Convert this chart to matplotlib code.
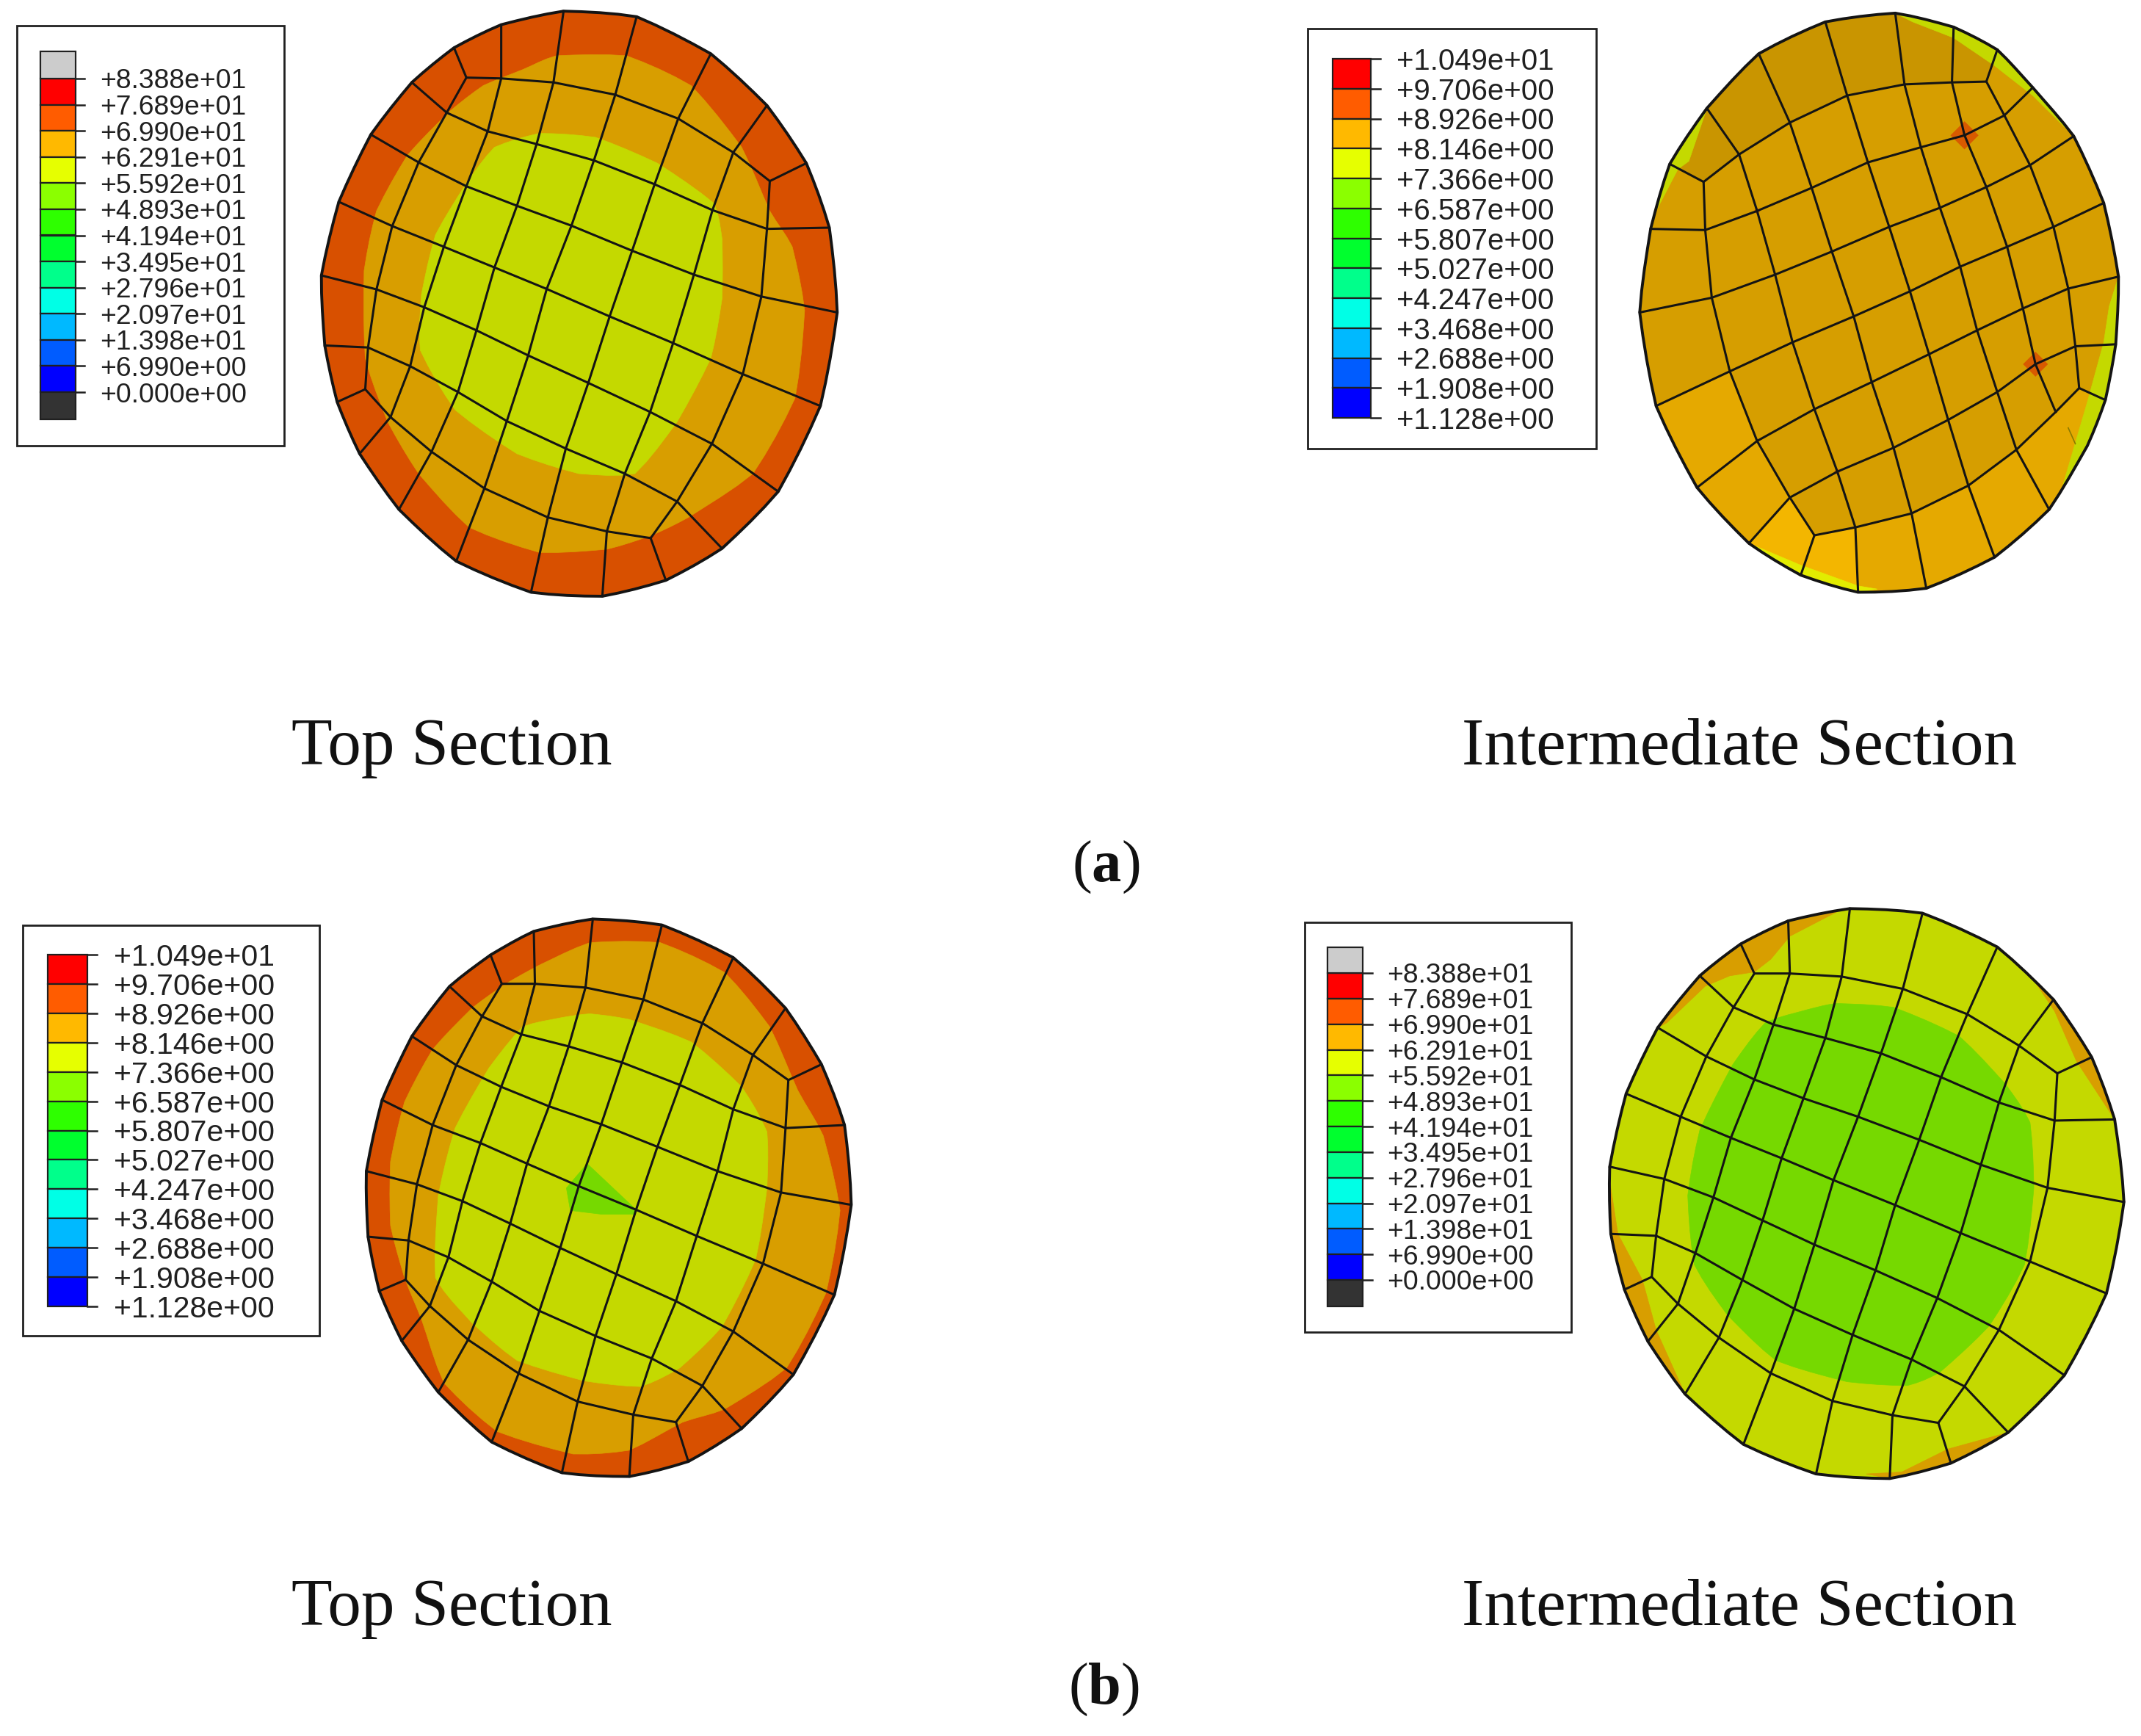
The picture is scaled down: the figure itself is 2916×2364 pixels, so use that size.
import matplotlib
matplotlib.use("Agg")
import matplotlib.pyplot as plt
from matplotlib.patches import Polygon, Rectangle

plt.rcParams['mathtext.fontset'] = 'custom'
plt.rcParams['mathtext.rm'] = 'Liberation Serif'
plt.rcParams['mathtext.bf'] = 'Liberation Serif:bold'

# ---------- legend data ----------
labels_stress = ["+8.388e+01", "+7.689e+01", "+6.990e+01", "+6.291e+01", "+5.592e+01", "+4.893e+01", "+4.194e+01",
                 "+3.495e+01", "+2.796e+01", "+2.097e+01", "+1.398e+01", "+6.990e+00", "+0.000e+00"]
labels_strain = ["+1.049e+01", "+9.706e+00", "+8.926e+00", "+8.146e+00", "+7.366e+00", "+6.587e+00", "+5.807e+00",
                 "+5.027e+00", "+4.247e+00", "+3.468e+00", "+2.688e+00", "+1.908e+00", "+1.128e+00"]
band_colors = ["#FF0000", "#FF5C00", "#FFB900", "#E6FF00", "#8BFF00", "#2EFF00", "#00FF2E",
               "#00FF8B", "#00FFE6", "#00B9FF", "#005CFF", "#0000FF"]
over_color = "#CCCCCC"
under_color = "#333333"

DARK = "#D85000"
ORANGE = "#D89E00"
LIME = "#C4D900"
GREEN = "#76D900"

# ---------- disc 1: top section (a) ----------
d1_outline = [(1003,28),(1133,42),(1265,135),(1365,265),(1435,410),(1476,572),(1490,785),(1460,1020),(1385,1235),(1285,1378),(1185,1458),(1072,1498),(945,1488),(812,1410),(710,1280),(640,1140),(600,1010),(578,868),(572,692),(603,507),(660,338),(733,207),(808,120),(892,62)]
d1_orange = [(990,140),(1115,140),(1230,215),(1320,370),(1370,530),(1410,620),(1432,780),(1415,1000),(1340,1190),(1225,1300),(1160,1345),(1080,1380),(960,1388),(835,1325),(745,1190),(690,1060),(650,900),(648,680),(670,530),(725,390),(800,280),(860,215),(930,175)]
d1_lime = [(960,335),(1060,345),(1170,410),(1270,510),(1285,600),(1285,750),(1265,900),(1205,1060),(1130,1190),(1030,1190),(920,1140),(810,1030),(748,880),(750,740),(775,590),(830,460),(880,370)]
d1_lines = [
 [(830,195),(892,197),(985,207),(1095,238),(1207,298),(1305,383),(1370,455)],
 [(795,283),(868,330),(955,362),(1057,403),(1165,463),(1268,528),(1365,575),(1476,572)],
 [(660,338),(745,408),(830,468),(920,517),(1017,567),(1125,630),(1235,690),(1355,745),(1490,785)],
 [(603,507),(698,568),(790,620),(880,672),(973,726),(1085,795),(1198,862),(1322,940),(1460,1020)],
 [(572,692),(670,727),(755,772),(848,830),(940,893),(1047,962),(1157,1035),(1267,1115),(1385,1235)],
 [(578,868),(655,873),(730,920),(815,985),(902,1058),(1007,1127),(1112,1190),(1205,1260),(1285,1378)],
 [(650,978),(695,1048),(768,1135),(862,1227),(975,1300),(1080,1335),(1158,1352)],
 [(808,120),(830,195),(795,283),(745,408),(698,568),(670,727),(655,873),(650,978),(600,1010)],
 [(733,207),(795,283)],
 [(640,1140),(695,1048)],
 [(892,62),(892,197),(868,330),(830,468),(790,620),(755,772),(730,920),(695,1048)],
 [(1003,28),(985,207),(955,362),(920,517),(880,672),(848,830),(815,985),(768,1135),(710,1280)],
 [(1133,42),(1095,238),(1057,403),(1017,567),(973,726),(940,893),(902,1058),(862,1227),(812,1410)],
 [(1265,135),(1207,298),(1165,463),(1125,630),(1085,795),(1047,962),(1007,1127),(975,1300),(945,1488)],
 [(1365,265),(1305,383),(1268,528),(1235,690),(1198,862),(1157,1035),(1112,1190),(1080,1335),(1072,1498)],
 [(1435,410),(1370,455),(1365,575),(1355,745),(1322,940),(1267,1115),(1205,1260),(1158,1352),(1185,1458)],
]

# ---------- disc 2: intermediate section (a) ----------
d2_outline = [(1118,33),(1225,68),(1305,125),(1370,220),(1445,342),(1500,510),(1527,695),(1522,865),(1503,1005),(1470,1120),(1400,1280),(1300,1400),(1175,1478),(1050,1488),(945,1445),(850,1365),(755,1225),(680,1020),(650,785),(670,575),(705,412),(773,272),(868,135),(990,55)]
d2_top_ring = [(705,412),(773,272),(868,135),(990,55),(1118,33),(1225,68),(1305,125),(1285,205),(1222,207),(1135,212),(1030,240),(925,308),(832,388),(767,457)]
d2_low_ring = [(680,1020),(815,933),(865,1108),(925,1250),(970,1345),(1045,1325),(1148,1290),(1252,1220),(1340,1130),(1412,1035),(1455,975),(1503,1005),(1470,1120),(1400,1280),(1300,1400),(1175,1478),(1050,1488),(945,1445),(850,1365),(755,1225)]
d2_bright = [(850,1365),(925,1250),(970,1345),(1045,1325),(1050,1488),(945,1445)]
d2_slivers = [
 [(1118,33),(1225,68),(1305,125),(1370,220),(1445,342),(1370,240),(1300,165),(1225,95),(1150,55)],
 [(705,412),(773,272),(740,405),(720,425),(680,530),(668,600),(672,560)],
 [(1527,695),(1522,865),(1503,1005),(1470,1120),(1425,1220),(1470,1010),(1500,860),(1510,770)],
]
d2_yellow = [(850,1365),(945,1420),(1050,1472),(1085,1480),(1050,1488),(945,1445)]
d2_hot_nodes = [(1245,340),(1375,915),(865,530),(1012,1185)]
d2_hot_sizes = [380,300,20,20]
d2_scratch = [(1435,1075),(1448,1115)]
d2_lines = [
 [(705,412),(767,457),(832,388),(925,308),(1030,240),(1135,212),(1222,207),(1285,205),(1305,125)],
 [(670,575),(770,578),(865,530),(965,472),(1068,408),(1165,370),(1245,340),(1318,290),(1370,220)],
 [(650,785),(782,748),(898,690),(1002,632),(1107,570),(1200,522),(1285,470),(1365,415),(1445,342)],
 [(680,1020),(815,933),(930,860),(1042,795),(1145,732),(1237,670),(1323,620),(1408,570),(1500,510)],
 [(755,1225),(865,1108),(970,1028),(1075,960),(1180,890),(1268,830),(1352,775),(1435,725),(1527,695)],
 [(925,1250),(1012,1185),(1115,1125),(1215,1055),(1305,985),(1375,915),(1448,870),(1522,865)],
 [(970,1345),(1045,1325),(1148,1290),(1252,1220),(1340,1130),(1412,1035),(1455,975)],
 [(773,272),(832,388),(865,530),(898,690),(930,860),(970,1028),(1012,1185),(1045,1325),(1050,1488)],
 [(868,135),(925,308),(965,472),(1002,632),(1042,795),(1075,960),(1115,1125),(1148,1290),(1175,1478)],
 [(990,55),(1030,240),(1068,408),(1107,570),(1145,732),(1180,890),(1215,1055),(1252,1220),(1300,1400)],
 [(1118,33),(1135,212),(1165,370),(1200,522),(1237,670),(1268,830),(1305,985),(1340,1130),(1400,1280)],
 [(1225,68),(1222,207),(1245,340),(1285,470),(1323,620),(1352,775),(1375,915),(1412,1035)],
 [(1285,205),(1318,290),(1365,415),(1408,570),(1435,725),(1448,870),(1455,975),(1503,1005)],
 [(767,457),(770,578),(782,748),(815,933),(865,1108),(925,1250),(970,1345),(945,1445)],
 [(850,1365),(925,1250)],
]

# ---------- disc 3: top section (b) ----------
d3_outline = [(1055,42),(1178,58),(1305,145),(1398,280),(1462,430),(1503,592),(1515,805),(1485,1045),(1412,1258),(1320,1402),(1225,1490),(1120,1530),(1000,1520),(875,1438),(780,1305),(715,1168),(675,1035),(655,890),(652,715),(680,525),(733,355),(800,222),(873,138),(950,75)]
d3_orange = [(1050,105),(1175,105),(1290,185),(1370,330),(1420,500),(1465,620),(1495,820),(1470,1040),(1400,1240),(1290,1350),(1215,1385),(1120,1460),(1020,1470),(885,1410),(790,1280),(750,1110),(720,1000),(695,860),(695,690),(720,530),(770,390),(840,280),(900,215),(960,165)]
d3_lime = [(1050,295),(1120,310),(1230,370),(1320,490),(1365,610),(1365,760),(1345,950),(1285,1130),(1210,1240),(1140,1290),(1040,1275),(920,1220),(840,1120),(775,1000),(780,780),(810,600),(870,440),(930,330),(1000,305)]
d3_green = [(1045,695),(1130,815),(1130,830),(1070,830),(1015,820),(1008,760)]
d3_lines = [
 [(893,215),(952,215),(1042,225),(1145,257),(1250,320),(1340,405),(1403,472)],
 [(858,302),(928,350),(1012,382),(1107,425),(1210,485),(1305,550),(1398,600),(1503,592)],
 [(733,355),(812,432),(892,490),(977,542),(1070,590),(1170,650),(1277,715),(1390,772),(1515,805)],
 [(680,525),(770,592),(855,640),(938,695),(1030,755),(1132,818),(1240,888),(1358,962),(1485,1045)],
 [(652,715),(742,750),(823,795),(908,855),(997,920),(1097,990),(1203,1062),(1305,1143),(1412,1258)],
 [(655,890),(727,900),(798,945),(875,1010),(960,1088),(1060,1155),(1160,1215),(1250,1288),(1320,1402)],
 [(722,1005),(765,1075),(833,1165),(923,1255),(1028,1330),(1127,1365),(1203,1385)],
 [(873,138),(893,215),(858,302),(812,432),(770,592),(742,750),(727,900),(722,1005),(675,1035)],
 [(800,222),(858,302)],
 [(715,1168),(765,1075)],
 [(950,75),(952,215),(928,350),(892,490),(855,640),(823,795),(798,945),(765,1075)],
 [(1055,42),(1042,225),(1012,382),(977,542),(938,695),(908,855),(875,1010),(833,1165),(780,1305)],
 [(1178,58),(1145,257),(1107,425),(1070,590),(1030,755),(997,920),(960,1088),(923,1255),(875,1438)],
 [(1305,145),(1250,320),(1210,485),(1170,650),(1132,818),(1097,990),(1060,1155),(1028,1330),(1000,1520)],
 [(1398,280),(1340,405),(1305,550),(1277,715),(1240,888),(1203,1062),(1160,1215),(1127,1365),(1120,1530)],
 [(1462,430),(1403,472),(1398,600),(1390,772),(1358,962),(1305,1143),(1250,1288),(1203,1385),(1225,1490)],
]

# ---------- disc 4: intermediate section (b) ----------
d4_outline = [(1035,33),(1168,45),(1305,133),(1408,270),(1478,420),(1520,582),(1537,797),(1505,1035),(1428,1248),(1325,1397),(1220,1477),(1108,1517),(973,1505),(840,1428),(733,1297),(665,1160),(622,1025),(597,880),(595,705),(625,515),(683,343),(760,208),(835,125),(922,65)]
d4_green = [(1010,280),(1115,290),(1235,365),(1320,490),(1365,590),(1372,760),(1355,960),(1290,1120),(1200,1240),(1140,1275),(1030,1265),(900,1210),(810,1090),(750,960),(738,780),(760,610),(820,440),(880,330),(960,295)]
d4_slivers = [
 [(683,343),(760,208),(835,125),(922,65),(1020,35),(925,105),(890,165),(860,198),(815,208),(770,235),(700,330)],
 [(1408,270),(1478,420),(1520,582),(1450,430),(1410,300),(1370,215)],
 [(595,705),(597,880),(622,1025),(665,1160),(733,1297),(680,1130),(655,1000),(610,880),(597,760)],
 [(1108,1517),(1220,1477),(1325,1397),(1215,1440),(1130,1500),(1065,1505)],
]
d4_lines = [
 [(860,202),(925,202),(1020,210),(1132,242),(1250,308),(1345,390),(1415,462)],
 [(822,290),(895,335),(990,370),(1092,410),(1202,472),(1308,538),(1410,585),(1520,582)],
 [(683,343),(772,418),(860,478),(950,527),(1050,575),(1162,635),(1275,700),(1397,760),(1537,797)],
 [(625,515),(725,575),(817,630),(910,683),(1005,740),(1118,805),(1238,878),(1365,952),(1505,1035)],
 [(595,705),(695,737),(785,785),(875,845),(970,908),(1082,975),(1195,1047),(1308,1130),(1428,1248)],
 [(597,880),(680,885),(752,930),(838,1000),(933,1075),(1040,1143),(1148,1207),(1245,1277),(1325,1397)],
 [(672,992),(720,1062),(795,1150),(890,1243),(1003,1315),(1113,1352),(1197,1372)],
 [(835,125),(860,202),(822,290),(772,418),(725,575),(695,737),(680,885),(672,992),(622,1025)],
 [(760,208),(822,290)],
 [(665,1160),(720,1062)],
 [(922,65),(925,202),(895,335),(860,478),(817,630),(785,785),(752,930),(720,1062)],
 [(1035,33),(1020,210),(990,370),(950,527),(910,683),(875,845),(838,1000),(795,1150),(733,1297)],
 [(1168,45),(1132,242),(1092,410),(1050,575),(1005,740),(970,908),(933,1075),(890,1243),(840,1428)],
 [(1305,133),(1250,308),(1202,472),(1162,635),(1118,805),(1082,975),(1040,1143),(1003,1315),(973,1505)],
 [(1408,270),(1345,390),(1308,538),(1275,700),(1238,878),(1195,1047),(1148,1207),(1113,1352),(1108,1517)],
 [(1478,420),(1415,462),(1410,585),(1397,760),(1365,952),(1308,1130),(1245,1277),(1197,1372),(1220,1477)],
]

W, H = 2916, 2364
fig = plt.figure(figsize=(W / 100, H / 100), dpi=100, facecolor="white")
ax = fig.add_axes([0, 0, 1, 1])
ax.set_xlim(0, W)
ax.set_ylim(H, 0)
ax.axis("off")

LINE = "#141414"


def view(x0, y0, sx, sy):
    return lambda pts: [(x0 + x / sx, y0 + y / sy) for x, y in pts]


def round_off(pts, sub=4, amount=0.4):
    """Closed Catmull-Rom blended with the polygon, so rims bow gently between read vertices."""
    out = []
    n = len(pts)
    for i in range(n):
        p0, p1, p2, p3 = pts[i - 1], pts[i], pts[(i + 1) % n], pts[(i + 2) % n]
        for k in range(sub):
            t = k / sub
            a, b, c = (-t**3 + 2*t**2 - t) / 2, (3*t**3 - 5*t**2 + 2) / 2, (-3*t**3 + 4*t**2 + t) / 2
            d = (t**3 - t**2) / 2
            sx_ = a*p0[0] + b*p1[0] + c*p2[0] + d*p3[0]
            sy_ = a*p0[1] + b*p1[1] + c*p2[1] + d*p3[1]
            lx, ly = p1[0] + t*(p2[0] - p1[0]), p1[1] + t*(p2[1] - p1[1])
            out.append((lx + amount*(sx_ - lx), ly + amount*(sy_ - ly)))
    return out


def fill(pts, color, z=1, clip=None):
    p = Polygon(pts, closed=True, facecolor=color, edgecolor=color, lw=0.5, zorder=z)
    ax.add_patch(p)
    if clip is not None:
        p.set_clip_path(clip)
    return p


def mesh(outline, lines):
    for ln in lines:
        xs, ys = zip(*ln)
        ax.plot(xs, ys, color=LINE, lw=2.2, solid_joinstyle="round", zorder=5)
    ax.add_patch(Polygon(outline, closed=True, fill=False, edgecolor=LINE, lw=2.8, zorder=6))


def legend(box, bar, tick_end, y_first, y_last, y_top, y_bot, text_x, fs, labels, with_caps):
    ax.add_patch(Rectangle((box[0], box[1]), box[2] - box[0], box[3] - box[1], fill=False,
                           edgecolor="#202020", lw=2.0, zorder=2))
    n = len(labels)
    step = (y_last - y_first) / (n - 1)
    ys = [y_first + i * step for i in range(n)]
    for i, c in enumerate(band_colors):
        ax.bar((bar[0] + bar[1]) / 2, step, width=bar[1] - bar[0], bottom=ys[i], color=c,
               edgecolor="#202020", lw=1.6, zorder=3)
    if with_caps:
        ax.bar((bar[0] + bar[1]) / 2, y_first - y_top, width=bar[1] - bar[0], bottom=y_top, color=over_color,
               edgecolor="#202020", lw=1.6, zorder=3)
        ax.bar((bar[0] + bar[1]) / 2, y_bot - y_last, width=bar[1] - bar[0], bottom=y_last, color=under_color,
               edgecolor="#202020", lw=1.6, zorder=3)
    for y, s in zip(ys, labels):
        ax.plot([bar[1], tick_end], [y, y], color="#202020", lw=1.8, zorder=3)
        ax.text(text_x, y, s, fontsize=fs, family="Liberation Sans", va="center_baseline", ha="left", color="#202020")


# disc 1
v = view(0, 0, 1.3067, 1.845)
rim = round_off(v(d1_outline))
fill(rim, DARK)
fill(round_off(v(d1_orange)), ORANGE, 2)
fill(round_off(v(d1_lime)), LIME, 3)
mesh(rim, [v(l) for l in d1_lines])

# disc 2
v = view(1750, 0, 1.345, 1.845)
rim = round_off(v(d2_outline))
base = fill(rim, "#D69E00")
for pts, col, z in [(d2_top_ring, "#C99500", 2), (d2_low_ring, "#E5A900", 2), (d2_bright, "#F3B600", 3)]:
    fill(v(pts), col, z, clip=base)
for s in d2_slivers:
    fill(v(s), LIME, 4, clip=base)
fill(v(d2_yellow), "#E2EC00", 4, clip=base)
hx, hy = zip(*v(d2_hot_nodes))
ax.scatter(hx, hy, s=d2_hot_sizes, marker="D", color="#D85A00", linewidths=0, zorder=4)
sx, sy = zip(*v(d2_scratch))
ax.plot(sx, sy, color="#8A7A00", lw=1.2, zorder=4)
mesh(rim, [v(l) for l in d2_lines])

# disc 3
v = view(0, 1230, 1.3067, 1.96)
rim = round_off(v(d3_outline))
fill(rim, DARK)
fill(round_off(v(d3_orange)), ORANGE, 2)
fill(round_off(v(d3_lime)), LIME, 3)
fill(v(d3_green), GREEN, 4)
mesh(rim, [v(l) for l in d3_lines])

# disc 4
v = view(1750, 1220, 1.345, 1.912)
rim = round_off(v(d4_outline))
base = fill(rim, LIME)
fill(round_off(v(d4_green)), GREEN, 3)
for s in d4_slivers:
    fill(v(s), ORANGE, 2, clip=base)
mesh(rim, [v(l) for l in d4_lines])

# legends
legend((23, 35, 387, 607), (55, 103), 115, 107, 534, 70, 571, 136, 26.8, labels_stress, True)
legend((1781, 39, 2174, 611), (1815, 1867), 1880, 80, 569, 80, 569, 1902, 28.9, labels_strain, False)
legend((31, 1260, 435, 1819), (65, 119), 132, 1300, 1779, 1300, 1779, 155, 29.5, labels_strain, False)
legend((1777, 1256, 2140, 1814), (1808, 1856), 1869, 1325, 1743, 1290, 1779, 1889, 26.8, labels_stress, True)

# captions
serif = "Liberation Serif"
cap = 65.6
ax.text(615, 1041, "Top Section", family=serif, fontsize=cap, ha="center", va="baseline", color="#111111")
ax.text(2369, 1041, "Intermediate Section", family=serif, fontsize=cap, ha="center", va="baseline", color="#111111")
ax.text(615, 2213, "Top Section", family=serif, fontsize=cap, ha="center", va="baseline", color="#111111")
ax.text(2369, 2213, "Intermediate Section", family=serif, fontsize=cap, ha="center", va="baseline", color="#111111")
ax.text(1506, 1200, r"($\mathbf{a}$)", fontsize=58, family=serif, ha="center", va="baseline", color="#111111")
ax.text(1503, 2320, r"($\mathbf{b}$)", fontsize=58, family=serif, ha="center", va="baseline", color="#111111")

fig.savefig("out.png", dpi=100, facecolor="white")
